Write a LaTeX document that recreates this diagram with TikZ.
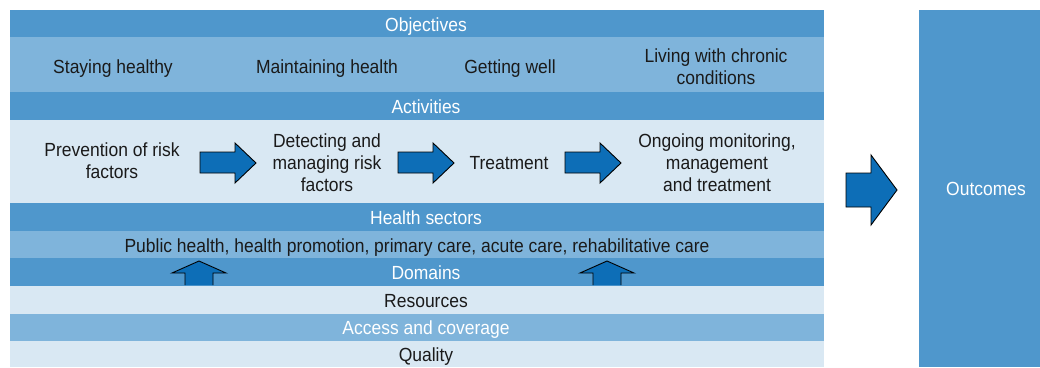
\documentclass[tikz,border=0pt]{standalone}
\usepackage{fontspec}
\setmainfont{Liberation Sans}[FakeStretch=0.92]
\definecolor{dk}{HTML}{4F97CC}
\definecolor{md}{HTML}{7FB4DB}
\definecolor{lt}{HTML}{D9E8F3}
\definecolor{af}{HTML}{0D6EB7}
\definecolor{tx}{HTML}{1A1A1A}
\begin{document}
\begin{tikzpicture}[x=1pt,y=-1pt,
  lbl/.style={font=\fontsize{19}{22}\selectfont, text=tx, inner sep=0pt, align=center},
  hdr/.style={lbl, text=white},
  blockarrow/.style={fill=af, draw=black, line width=0.9pt, line join=miter}]
\useasboundingbox (0,0) rectangle (1040,367);
% bands
\fill[dk] (10,10) rectangle (824,37);
\fill[md] (10,37) rectangle (824,92);
\fill[dk] (10,92) rectangle (824,120);
\fill[lt] (10,120) rectangle (824,203);
\fill[dk] (10,203) rectangle (824,231);
\fill[md] (10,231) rectangle (824,258);
\fill[dk] (10,258) rectangle (824,286);
\fill[lt] (10,286) rectangle (824,314);
\fill[md] (10,314) rectangle (824,341);
\fill[lt] (10,341) rectangle (824,367);
\fill[dk] (919,10) rectangle (1040,367);
% headers
\node[hdr, anchor=base] (obj) at (426,31) {Objectives};
\node[hdr, anchor=base] (act) at (426,113.5) {Activities};
\node[hdr, anchor=base] (hs) at (426,224.5) {Health sectors};
\node[hdr, anchor=base] (dom) at (426,279.5) {Domains};
\node[lbl, anchor=base] (res) at (426,307) {Resources};
\node[hdr, anchor=base] (acc) at (426,334.5) {Access and coverage};
\node[lbl, anchor=base] (qual) at (426,361.5) {Quality};
% objectives
\node[lbl, anchor=base] (o1) at (113,73.5) {Staying healthy};
\node[lbl, anchor=base] (o2) at (327,73.5) {Maintaining health};
\node[lbl, anchor=base] (o3) at (510,73.5) {Getting well};
\node[lbl] (o4) at (716,66.5) {Living with chronic\\conditions};
% activities
\node[lbl] (a1) at (112,160.5) {Prevention of risk\\factors};
\node[lbl] (a2) at (327,162.5) {Detecting and\\managing risk\\factors};
\node[lbl, anchor=base] (a3) at (509,169) {Treatment};
\node[lbl] (a4) at (717,162.5) {Ongoing monitoring,\\management\\and treatment};
% sectors
\node[lbl, anchor=base] (sec) at (417,252) {Public health, health promotion, primary care, acute care, rehabilitative care};
% outcomes
\node[hdr, anchor=base] (out) at (986,195.5) {Outcomes};
% activity arrows
\draw[blockarrow] (200,152) -- (235,152) -- (235,143) -- (256,163) -- (235,183) -- (235,173) -- (200,173) -- cycle;
\draw[blockarrow] (398,152) -- (433,152) -- (433,143) -- (454,163) -- (433,183) -- (433,173) -- (398,173) -- cycle;
\draw[blockarrow] (565,152) -- (600,152) -- (600,143) -- (621,163) -- (600,183) -- (600,173) -- (565,173) -- cycle;
% outcome arrow
\draw[blockarrow] (846,173) -- (871,173) -- (871,155) -- (897,190) -- (871,225) -- (871,207) -- (846,207) -- cycle;
% up arrows
\draw[blockarrow] (185,285) -- (185,273) -- (172,273) -- (199,261) -- (226,273) -- (213,273) -- (213,285);
\draw[blockarrow] (593,285) -- (593,273) -- (580,273) -- (607,261) -- (634,273) -- (621,273) -- (621,285);
\end{tikzpicture}
\end{document}
